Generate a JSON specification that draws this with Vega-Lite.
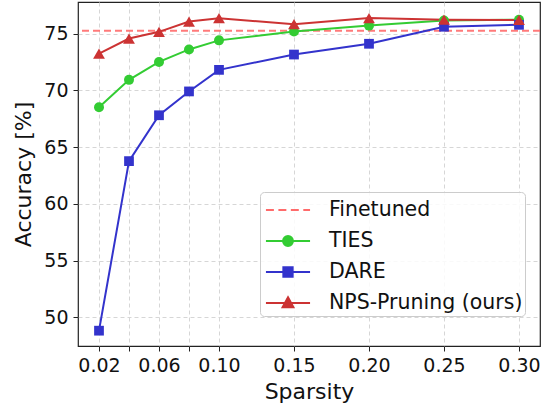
{
  "$schema": "https://vega.github.io/schema/vega-lite/v6.json",
  "width": 462,
  "height": 344,
  "autosize": {"type": "none"},
  "padding": {"left": 78, "top": 2, "right": 13, "bottom": 63},
  "background": "white",
  "config": {
    "font": "DejaVu Sans",
    "view": {"stroke": "#222222", "strokeWidth": 1.2},
    "axis": {
      "domain": false,
      "grid": true,
      "gridColor": "#d6d6d6",
      "gridDash": [4, 3],
      "gridWidth": 1,
      "tickColor": "#222222",
      "tickSize": 5,
      "labelFont": "DejaVu Sans",
      "labelFontSize": 19,
      "labelColor": "#111111",
      "titleFont": "DejaVu Sans",
      "titleFontSize": 22,
      "titleFontWeight": "normal",
      "titleColor": "#111111",
      "labelOverlap": false,
      "labelFlush": false
    },
    "legend": {
      "orient": "none",
      "legendX": 182,
      "legendY": 190,
      "padding": 2,
      "symbolSize": 900,
      "symbolStrokeWidth": 2,
      "symbolOffset": 10,
      "labelOffset": 25,
      "labelFontSize": 20.5,
      "labelFont": "DejaVu Sans",
      "labelColor": "#111111",
      "labelLimit": 400,
      "rowPadding": 4,
      "fillColor": "rgba(255,255,255,0.85)",
      "strokeColor": "#cccccc",
      "cornerRadius": 4,
      "symbolOpacity": 1
    }
  },
  "data": {
    "values": [
      {"series": "Finetuned", "sparsity": null, "acc": 75.25},
      {"series": "TIES", "sparsity": 0.02, "acc": 68.5},
      {"series": "TIES", "sparsity": 0.04, "acc": 70.92},
      {"series": "TIES", "sparsity": 0.06, "acc": 72.5},
      {"series": "TIES", "sparsity": 0.08, "acc": 73.6},
      {"series": "TIES", "sparsity": 0.10, "acc": 74.4},
      {"series": "TIES", "sparsity": 0.15, "acc": 75.18},
      {"series": "TIES", "sparsity": 0.20, "acc": 75.7},
      {"series": "TIES", "sparsity": 0.25, "acc": 76.15},
      {"series": "TIES", "sparsity": 0.30, "acc": 76.22},
      {"series": "DARE", "sparsity": 0.02, "acc": 48.82},
      {"series": "DARE", "sparsity": 0.04, "acc": 63.76},
      {"series": "DARE", "sparsity": 0.06, "acc": 67.8},
      {"series": "DARE", "sparsity": 0.08, "acc": 69.9},
      {"series": "DARE", "sparsity": 0.10, "acc": 71.8},
      {"series": "DARE", "sparsity": 0.15, "acc": 73.15},
      {"series": "DARE", "sparsity": 0.20, "acc": 74.1},
      {"series": "DARE", "sparsity": 0.25, "acc": 75.6},
      {"series": "DARE", "sparsity": 0.30, "acc": 75.77},
      {"series": "NPS-Pruning (ours)", "sparsity": 0.02, "acc": 73.24},
      {"series": "NPS-Pruning (ours)", "sparsity": 0.04, "acc": 74.56},
      {"series": "NPS-Pruning (ours)", "sparsity": 0.06, "acc": 75.15},
      {"series": "NPS-Pruning (ours)", "sparsity": 0.08, "acc": 76.06},
      {"series": "NPS-Pruning (ours)", "sparsity": 0.10, "acc": 76.35},
      {"series": "NPS-Pruning (ours)", "sparsity": 0.15, "acc": 75.82},
      {"series": "NPS-Pruning (ours)", "sparsity": 0.20, "acc": 76.36},
      {"series": "NPS-Pruning (ours)", "sparsity": 0.25, "acc": 76.22},
      {"series": "NPS-Pruning (ours)", "sparsity": 0.30, "acc": 76.2}
    ]
  },
  "layer": [
    {
      "transform": [{"filter": "datum.series === 'Finetuned'"}],
      "mark": {"type": "rule", "strokeDash": [7, 4], "strokeWidth": 2, "opacity": 0.9},
      "encoding": {
        "y": {"field": "acc", "type": "quantitative", "scale": {"domain": [47.47, 77.78], "nice": false, "zero": false}},
        "color": {"field": "series", "type": "nominal", "title": null,
          "scale": {"domain": ["Finetuned", "TIES", "DARE", "NPS-Pruning (ours)"], "range": ["#ff6b6b", "#33cc33", "#3333cc", "#cc3333"]},
          "legend": {
            "title": null,
            "encode": {
              "symbols": {
                "update": {
                  "shape": {"signal": "datum.value === 'Finetuned' ? 'M-1.47,0H-0.94M-0.64,0H-0.11M0.19,0H0.72M1.02,0H1.47' : datum.value === 'TIES' ? 'M-1.47,0H1.47M-0.33,0A0.33,0.33 0 1,1 0.33,0A0.33,0.33 0 1,1 -0.33,0Z' : datum.value === 'DARE' ? 'M-1.47,0H1.47M-0.31,-0.31H0.31V0.31H-0.31Z' : 'M-1.47,0H1.47M0,-0.38L0.36,0.28H-0.36Z'"},
                  "fill": {"scale": "color", "field": "value"},
                  "stroke": {"scale": "color", "field": "value"},
                  "strokeWidth": {"value": 2},
                  "strokeDash": {"value": []},
                  "size": {"value": 900},
                  "opacity": {"value": 1}
                }
              }
            }
          }
        }
      }
    },
    {
      "transform": [{"filter": "datum.series !== 'Finetuned'"}],
      "mark": {"type": "line", "strokeWidth": 2},
      "encoding": {
        "x": {"field": "sparsity", "type": "quantitative"},
        "y": {"field": "acc", "type": "quantitative"},
        "color": {"field": "series", "type": "nominal", "title": null,
          "legend": {
            "title": null,
            "encode": {
              "symbols": {
                "update": {
                  "shape": {"signal": "datum.value === 'Finetuned' ? 'M-1.47,0H-0.94M-0.64,0H-0.11M0.19,0H0.72M1.02,0H1.47' : datum.value === 'TIES' ? 'M-1.47,0H1.47M-0.33,0A0.33,0.33 0 1,1 0.33,0A0.33,0.33 0 1,1 -0.33,0Z' : datum.value === 'DARE' ? 'M-1.47,0H1.47M-0.31,-0.31H0.31V0.31H-0.31Z' : 'M-1.47,0H1.47M0,-0.38L0.36,0.28H-0.36Z'"},
                  "fill": {"scale": "color", "field": "value"},
                  "stroke": {"scale": "color", "field": "value"},
                  "strokeWidth": {"value": 2},
                  "strokeDash": {"value": []},
                  "size": {"value": 900},
                  "opacity": {"value": 1}
                }
              }
            }
          }
        }
      }
    },
    {
      "transform": [{"filter": "datum.series === 'TIES'"}],
      "mark": {"type": "point", "filled": true, "opacity": 1, "shape": "circle", "size": 100},
      "encoding": {
        "x": {"field": "sparsity", "type": "quantitative"},
        "y": {"field": "acc", "type": "quantitative"},
        "color": {"field": "series", "type": "nominal", "legend": null}
      }
    },
    {
      "transform": [{"filter": "datum.series === 'DARE'"}],
      "mark": {"type": "point", "filled": true, "opacity": 1, "shape": "square", "size": 95},
      "encoding": {
        "x": {"field": "sparsity", "type": "quantitative"},
        "y": {"field": "acc", "type": "quantitative"},
        "color": {"field": "series", "type": "nominal", "legend": null}
      }
    },
    {
      "transform": [{"filter": "datum.series === 'NPS-Pruning (ours)'"}],
      "mark": {"type": "point", "filled": true, "opacity": 1, "shape": "triangle-up", "size": 140},
      "encoding": {
        "x": {
          "field": "sparsity", "type": "quantitative", "title": "Sparsity",
          "scale": {"domain": [0.006, 0.314], "nice": false, "zero": false},
          "axis": {
            "values": [0.02, 0.04, 0.06, 0.08, 0.10, 0.15, 0.20, 0.25, 0.30],
            "labelExpr": "abs(datum.value-0.04)<1e-6 || abs(datum.value-0.08)<1e-6 ? '' : format(datum.value, '.2f')",
            "labelPadding": 5,
            "titlePadding": 6
          }
        },
        "y": {
          "field": "acc", "type": "quantitative", "title": "Accuracy [%]",
          "axis": {"values": [50, 55, 60, 65, 70, 75], "labelPadding": 5, "titlePadding": 8}
        },
        "color": {"field": "series", "type": "nominal", "legend": null}
      }
    }
  ]
}
